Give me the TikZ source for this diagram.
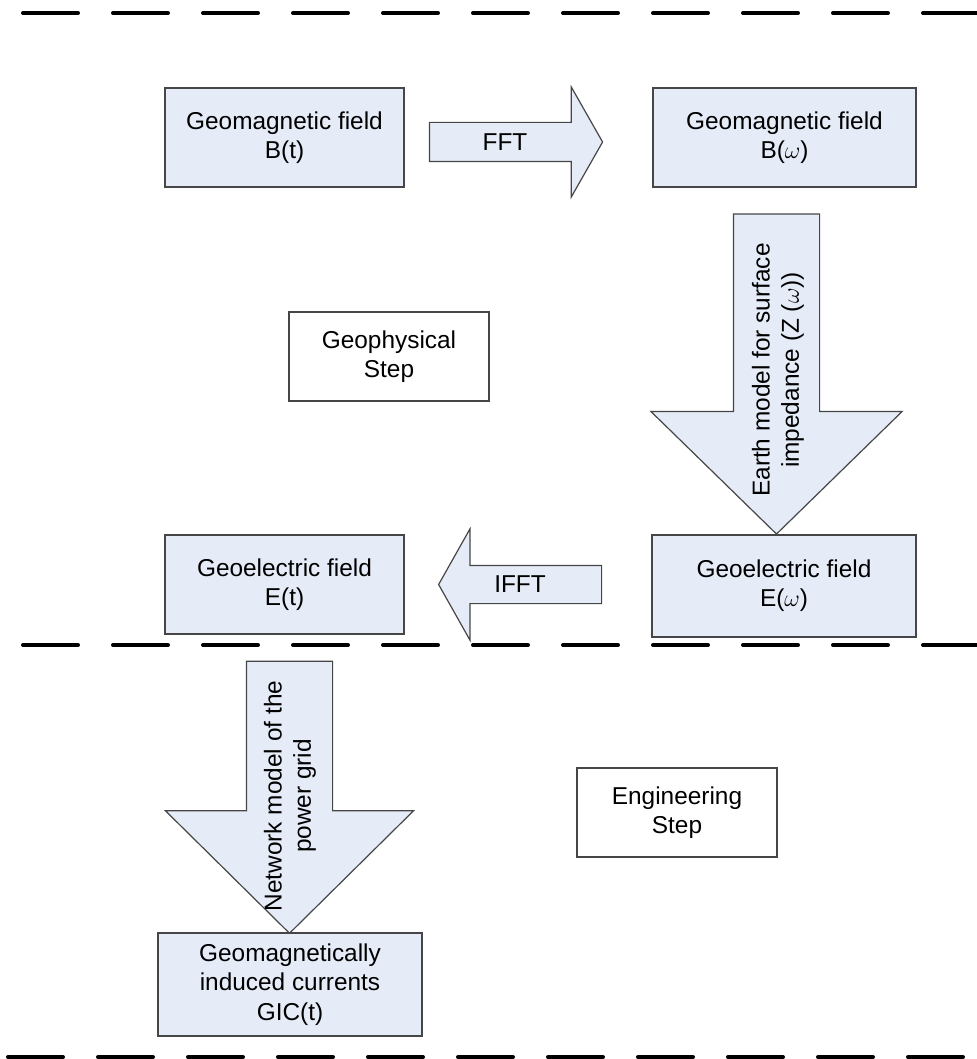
\documentclass[tikz,border=0pt]{standalone}
\usepackage{fontspec}
\setmainfont{Liberation Sans}
\usetikzlibrary{shapes.arrows}

\definecolor{boxfill}{RGB}{230,236,247}
\definecolor{boxline}{RGB}{70,70,70}

\begin{document}
\begin{tikzpicture}[
  x=0.5pt,
  y=-0.5pt,
  box/.style={
    rectangle,
    draw=boxline,
    fill=boxfill,
    line width=0.7pt,
    align=center,
    inner sep=0pt,
    font=\fontsize{12.2}{14.6}\selectfont
  },
  stepbox/.style={
    box,
    fill=white
  },
  blockarrow/.style={
    single arrow,
    draw=boxline,
    fill=boxfill,
    line width=0.6pt,
    inner xsep=0pt
  },
  arrowtext/.style={
    inner sep=0pt,
    align=center,
    font=\fontsize{12.2}{14.6}\selectfont
  },
  divider/.style={
    line width=2pt,
    line cap=round,
    dash pattern=on 27.5pt off 17.5pt
  }
]

\path[use as bounding box] (0,0) rectangle (977,1059);

% section dividers
\draw[divider] (23,13) -- (985,13);
\draw[divider] (23,645) -- (985,645);
\draw[divider] (8,1057) -- (985,1057);

% field boxes
\node[box, minimum width=119.5pt, minimum height=49.5pt] (bt) at (284.5,137.5)
  {Geomagnetic field\\B(t)};
\node[box, minimum width=131.5pt, minimum height=49.5pt] (bw) at (784.5,137.5)
  {Geomagnetic field\\B($\omega$)};
\node[box, minimum width=132pt, minimum height=51pt] (ew) at (784,586)
  {Geoelectric field\\E($\omega$)};
\node[box, minimum width=119.5pt, minimum height=49.5pt] (et) at (284.5,584.5)
  {Geoelectric field\\E(t)};
\node[box, minimum width=132pt, minimum height=51.5pt] (gic) at (290,984.5)
  {Geomagnetically\\induced currents\\GIC(t)};

% step captions
\node[stepbox, minimum width=100pt, minimum height=44.5pt] (geo) at (389,356.5)
  {Geophysical\\Step};
\node[stepbox, minimum width=100pt, minimum height=44.5pt] (eng) at (677,812.5)
  {Engineering\\Step};

% block arrows
\node[blockarrow, minimum height=86.5pt, minimum width=54.5pt, inner ysep=9.5pt,
  single arrow head extend=17.75pt, single arrow tip angle=120.7] (fft) at (510.5,142) {};
\node[blockarrow, shape border rotate=180, minimum height=81.5pt, minimum width=55pt,
  inner ysep=9.25pt, single arrow head extend=18.25pt, single arrow tip angle=121.2]
  (ifft) at (525.5,584.5) {};
\node[blockarrow, rotate=-90, minimum height=160pt, minimum width=125pt, inner ysep=21.25pt,
  single arrow head extend=41.25pt, single arrow tip angle=91.4] (zmodel) at (776.5,353) {};
\node[blockarrow, rotate=-90, minimum height=136pt, minimum width=123.5pt, inner ysep=21.25pt,
  single arrow head extend=40.5pt, single arrow tip angle=90.7] (gridmodel) at (289.5,776) {};

\node[arrowtext] (fftlbl) at (505,142) {FFT};
\node[arrowtext] (ifftlbl) at (520,584) {IFFT};
\node[arrowtext, rotate=90] (zmodellbl) at (778,370)
  {Earth model for surface\\impedance (Z ($\omega$))};
\node[arrowtext, rotate=90] (gridmodellbl) at (290,796)
  {Network model of the\\power grid};

\end{tikzpicture}
\end{document}
